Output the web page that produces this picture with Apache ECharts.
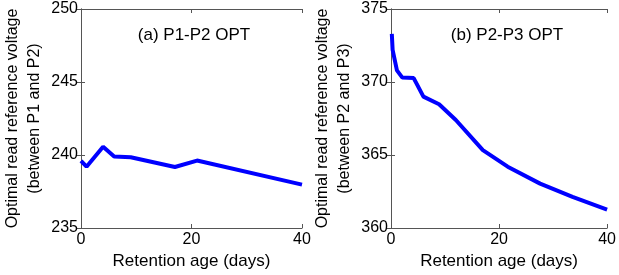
<!DOCTYPE html>
<html><head><meta charset="utf-8">
<script src="https://cdn.jsdelivr.net/npm/echarts@6/dist/echarts.min.js"></script>
<style>html,body{margin:0;padding:0;background:#fff}#c{width:619px;height:275px}</style>
</head><body><div id="c"></div>
<script>
const xA = [0, 1, 4, 6, 9, 17, 21, 40];
const yA = [239.6, 239.2, 240.56, 239.9, 239.85, 239.18, 239.62, 237.97];
const xB = [0.15, 0.3, 1.1, 2.1, 4.2, 6.0, 8.9, 12, 17, 21.6, 27.6, 33.6, 40];
const yB = [373.3, 372.2, 370.8, 370.3, 370.27, 369.0, 368.48, 367.4, 365.33, 364.2, 363.04, 362.13, 361.26];
const titles = ['(a) P1-P2 OPT', '(b) P2-P3 OPT'];
const yNames = ['Optimal read reference voltage\n(between P1 and P2)', 'Optimal read reference voltage\n(between P2 and P3)'];
const xName = 'Retention age (days)';
const yRanges = [[235, 250], [360, 375]];

const F = 'Liberation Sans, Arial, sans-serif';
const axisCol = '#555';
function xAxes(g) {
  return [{
    type: 'value', gridIndex: g, min: 0, max: 40, interval: 20,
    name: xName, nameLocation: 'middle', nameGap: 23,
    nameTextStyle: {fontFamily: F, fontSize: 17, color: '#000'},
    axisLine: {lineStyle: {color: axisCol}}, axisTick: {inside: true, length: 4, lineStyle: {color: axisCol}},
    axisLabel: {fontFamily: F, fontSize: 16, color: '#000', margin: 4},
    splitLine: {show: false}
  }, {
    type: 'value', gridIndex: g, position: 'top', min: 0, max: 40, interval: 20,
    axisLine: {lineStyle: {color: axisCol}}, axisTick: {inside: true, length: 4, lineStyle: {color: axisCol}},
    axisLabel: {show: false}, splitLine: {show: false}
  }];
}
function yAxes(g) {
  return [{
    type: 'value', gridIndex: g, min: yRanges[g][0], max: yRanges[g][1], interval: 5,
    name: yNames[g], nameLocation: 'middle', nameGap: 35,
    nameTextStyle: {fontFamily: F, fontSize: 16, color: '#000', lineHeight: 22},
    axisLine: {show: true, lineStyle: {color: axisCol}}, axisTick: {show: true, inside: true, length: 4, lineStyle: {color: axisCol}},
    axisLabel: {fontFamily: F, fontSize: 16, color: '#000', margin: 3},
    splitLine: {show: false}
  }, {
    type: 'value', gridIndex: g, position: 'right', min: yRanges[g][0], max: yRanges[g][1], interval: 5,
    axisLine: {show: true, lineStyle: {color: axisCol}}, axisTick: {show: true, inside: true, length: 4, lineStyle: {color: axisCol}},
    axisLabel: {show: false}, splitLine: {show: false}
  }];
}
const chart = echarts.init(document.getElementById('c'));
chart.setOption({
  animation: false,
  backgroundColor: '#fff',
  title: [
    {text: titles[0], left: 189, top: 22, textAlign: 'center', textStyle: {fontFamily: F, fontSize: 17, fontWeight: 'normal', color: '#000'}},
    {text: titles[1], left: 502, top: 22, textAlign: 'center', textStyle: {fontFamily: F, fontSize: 17, fontWeight: 'normal', color: '#000'}}
  ],
  grid: [
    {left: 81, right: 317, top: 9, bottom: 47},
    {left: 391, right: 7, top: 9, bottom: 47}
  ],
  xAxis: [...xAxes(0), ...xAxes(1)],
  yAxis: [...yAxes(0), ...yAxes(1)],
  series: [
    {type: 'line', xAxisIndex: 0, yAxisIndex: 0, data: xA.map((x, i) => [x, yA[i]]), showSymbol: false, lineStyle: {color: '#0000ff', width: 4}},
    {type: 'line', xAxisIndex: 2, yAxisIndex: 2, data: xB.map((x, i) => [x, yB[i]]), showSymbol: false, lineStyle: {color: '#0000ff', width: 4}}
  ]
});
</script></body></html>
